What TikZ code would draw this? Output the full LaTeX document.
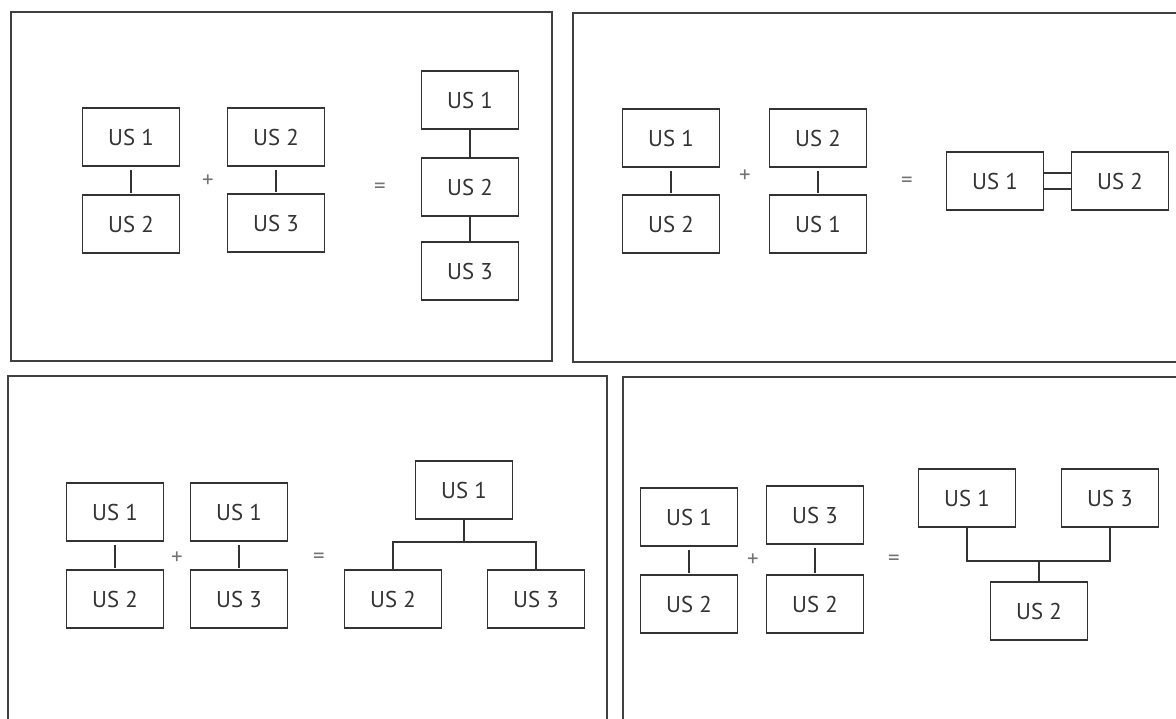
\documentclass[tikz,border=0pt]{standalone}
\usepackage{fontspec}
\setmainfont{PT Sans}
\usepackage{tikz}
\usetikzlibrary{positioning, calc}

\begin{document}
\begin{tikzpicture}[
            x=0.02cm, y=-0.02cm,
            us/.style={draw=black!80, line width=0.75pt, minimum width=1.94cm, minimum height=1.16cm, inner sep=0pt, text=black!80, font=\fontsize{13}{15}\selectfont},
            op/.style={text=black!55, font=\fontsize{13}{15}\selectfont, inner sep=0pt},
            frm/.style={draw=black!75, line width=0.9pt},
            link/.style={draw=black!80, line width=0.75pt},
            pairlink/.style={link, shorten <=2pt, shorten >=1pt},
        ]
        \useasboundingbox (0,0) rectangle (1176,718);
        \clip (0,0) rectangle (1176,718);

        % panel frames
        \draw[frm] (11,12) rectangle (552,361);
        \draw[frm] (573,13) rectangle (1200,362);
        \draw[frm] (8,376) rectangle (607,740);
        \draw[frm] (623,377) rectangle (1200,740);

        % panel 1: chain
        \node[us] (a1) at (131,137) {US 1};
        \node[us] (a2) at (131,224) {US 2};
        \node[op] (p1) at (208,181) {+};
        \node[us] (b1) at (276,137) {US 2};
        \node[us] (b2) at (276,223) {US 3};
        \node[op] (q1) at (380,188) {=};
        \node[us] (c1) at (470,100) {US 1};
        \node[us] (c2) at (470,187) {US 2};
        \node[us] (c3) at (470,271) {US 3};
        \draw[pairlink] (a1) -- (a2);
        \draw[pairlink] (b1) -- (b2);
        \draw[link] (c1) -- (c2);
        \draw[link] (c2) -- (c3);

        % panel 2: cycle
        \node[us] (d1) at (671,138) {US 1};
        \node[us] (d2) at (671,224) {US 2};
        \node[op] (p2) at (745,176) {+};
        \node[us] (e1) at (818,138) {US 2};
        \node[us] (e2) at (818,224) {US 1};
        \node[op] (q2) at (907,182) {=};
        \node[us] (f1) at (995,181) {US 1};
        \node[us] (f2) at (1120,181) {US 2};
        \draw[pairlink] (d1) -- (d2);
        \draw[pairlink] (e1) -- (e2);
        \draw[link] ([yshift=0.16cm]f1.east) -- ([yshift=0.16cm]f2.west);
        \draw[link] ([yshift=-0.16cm]f1.east) -- ([yshift=-0.16cm]f2.west);

        % panel 3: split
        \node[us] (g1) at (115,512) {US 1};
        \node[us] (g2) at (115,599) {US 2};
        \node[op] (p3) at (177,558) {+};
        \node[us] (h1) at (239,512) {US 1};
        \node[us] (h2) at (239,599) {US 3};
        \node[op] (q3) at (319,558) {=};
        \node[us] (i1) at (464,490) {US 1};
        \node[us] (i2) at (393,599) {US 2};
        \node[us] (i3) at (536,599) {US 3};
        \coordinate (i0) at (464,542);
        \draw[pairlink] (g1) -- (g2);
        \draw[pairlink] (h1) -- (h2);
        \draw[link] (i1) -- (i0);
        \draw[link] (i2.north) |- (i0) -| (i3.north);

        % panel 4: merge
        \node[us] (j1) at (689,517) {US 1};
        \node[us] (j2) at (689,604) {US 2};
        \node[op] (p4) at (753,560) {+};
        \node[us] (k1) at (815,515) {US 3};
        \node[us] (k2) at (815,604) {US 2};
        \node[op] (q4) at (894,560) {=};
        \node[us] (l1) at (967,498) {US 1};
        \node[us] (l3) at (1110,498) {US 3};
        \node[us] (l2) at (1039,611) {US 2};
        \coordinate (l0) at (1039,561);
        \draw[pairlink] (j1) -- (j2);
        \draw[pairlink] (k1) -- (k2);
        \draw[link] (l1.south) |- (l0) -| (l3.south);
        \draw[link] (l0) -- (l2);
    \end{tikzpicture}
\end{document}
